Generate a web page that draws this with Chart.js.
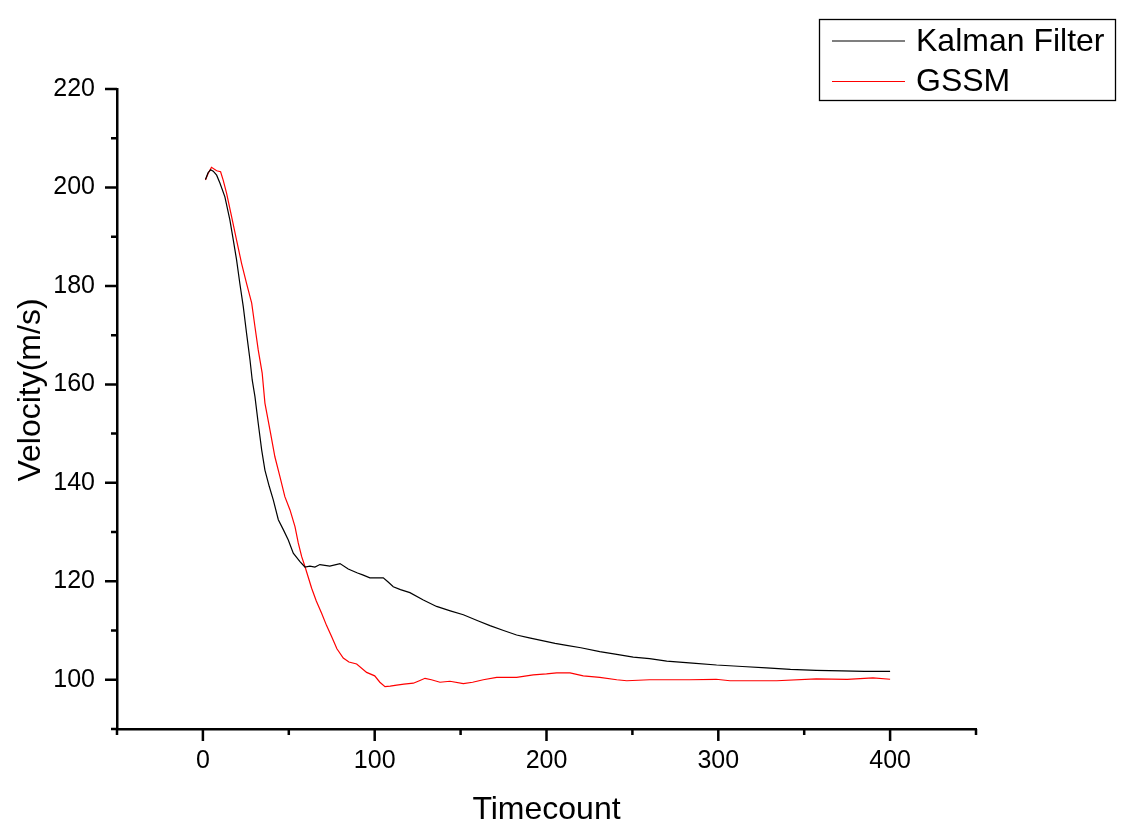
<!DOCTYPE html>
<html>
<head>
<meta charset="utf-8">
<script src="https://cdn.jsdelivr.net/npm/chart.js@4/dist/chart.umd.min.js"></script>
<style>
  body { margin: 0; background: #fff; }
</style>
</head>
<body>
<canvas id="chart" width="1129" height="837"></canvas>
<script>
// dados
const kalmanX = [1.5, 3, 4.5, 6, 8, 9.9, 12.8, 15.7, 17.7, 19.6, 21.5, 23.5, 25.4, 27.4, 28.7, 30.3, 32.2, 34.2, 36.1, 38.6, 41, 43.9, 46.8, 49.7, 52.6, 56.5, 59.4, 62.3, 65.2, 68.1, 73.9, 79.8, 84.6, 90, 93, 97.2, 101, 105, 108, 110.8, 115, 120.5, 128.3, 136, 144, 151.6, 160, 167.1, 175, 182.6, 190, 198.2, 205, 211.7, 220, 231, 240, 250.5, 260, 270, 285, 299, 314, 328, 342, 357, 372, 385, 400];
const kalmanY = [201.6, 203, 203.6, 203.3, 202.5, 200.9, 198.1, 193.4, 189.3, 185.3, 180.5, 175.8, 170.4, 165, 160.9, 157.5, 152.1, 146.7, 142.6, 139.3, 136.5, 132.5, 130.5, 128.4, 125.7, 124, 122.9, 123.1, 122.9, 123.4, 123.1, 123.6, 122.5, 121.7, 121.3, 120.7, 120.7, 120.7, 119.8, 118.9, 118.3, 117.7, 116.2, 114.9, 114, 113.2, 112, 111, 110, 109.1, 108.5, 107.9, 107.4, 107, 106.5, 105.7, 105.2, 104.6, 104.3, 103.8, 103.4, 103, 102.7, 102.4, 102.1, 101.9, 101.8, 101.7, 101.7];

const gssmX = [1.5, 3.1, 5, 8, 10.3, 11.8, 13.8, 16.7, 19.6, 22.5, 25.4, 28.4, 30.3, 32.2, 34.5, 36.1, 39, 41.9, 44.8, 47.7, 50.7, 53.6, 55.5, 57.5, 59.4, 63.3, 66, 69.1, 72, 74.9, 78, 81.7, 85, 89.5, 95.3, 100, 103, 106, 109, 112.8, 117, 122.5, 126, 129.3, 133, 138, 143.8, 151.6, 157, 163.2, 171, 182.6, 192.3, 200, 205.9, 213.7, 221.4, 231, 240.9, 246.7, 260, 283, 298.7, 306.8, 334, 357, 375, 390, 400];
const gssmY = [201.5, 202.9, 204.1, 203.4, 203.2, 201.5, 198.8, 194.1, 189.3, 184.6, 180.5, 176.5, 171.7, 167, 162.3, 156.2, 150.8, 145.3, 141.3, 137.2, 134.5, 131.1, 127.8, 125, 123, 118.6, 116, 113.5, 111, 108.8, 106.3, 104.4, 103.6, 103.2, 101.5, 100.8, 99.5, 98.6, 98.7, 98.9, 99.1, 99.3, 99.8, 100.3, 100, 99.5, 99.7, 99.2, 99.5, 100, 100.5, 100.5, 101, 101.2, 101.4, 101.4, 100.8, 100.5, 100, 99.8, 100, 100, 100.1, 99.8, 99.8, 100.2, 100.1, 100.4, 100.1];

const seriesNames = ['Kalman Filter', 'GSSM'];
const xLabels = [0, 100, 200, 300, 400];
const yLabels = [100, 120, 140, 160, 180, 200, 220];

const fonte = '"Liberation Sans", Arial, sans-serif';

function pontos(xs, ys) {
    return xs.map((x, i) => ({x: x, y: ys[i]}));
}

// ticks maiores e menores, por fora dos eixos + título do eixo y
const ticksPlugin = {
    id: 'ticksOrigin',
    afterDraw(chart) {
        let ctx = chart.ctx;
        let xs = chart.scales.x;
        let ys = chart.scales.y;
        ctx.save();
        ctx.strokeStyle = '#000';
        ctx.lineWidth = 2.5;
        ctx.beginPath();
        for (let v = -50; v <= 450; v += 50) {
            let px = xs.getPixelForValue(v);
            let len = (v % 100 === 0) ? 12 : 6;
            ctx.moveTo(px, xs.top);
            ctx.lineTo(px, xs.top + len);
        }
        for (let v = 90; v <= 220; v += 10) {
            let py = ys.getPixelForValue(v);
            let len = (v % 20 === 0) ? 12 : 6;
            ctx.moveTo(ys.right, py);
            ctx.lineTo(ys.right - len, py);
        }
        ctx.stroke();

        // título vertical, um pouco acima do centro como no original
        ctx.translate(31, 390);
        ctx.rotate(-Math.PI / 2);
        ctx.fillStyle = '#000';
        ctx.font = '32px ' + fonte;
        ctx.textAlign = 'center';
        ctx.textBaseline = 'middle';
        ctx.fillText('Velocity(m/s)', 0, 0);
        ctx.restore();
    }
};

// legenda com caixa no canto superior direito
const legendaPlugin = {
    id: 'legendaCaixa',
    afterDraw(chart) {
        let ctx = chart.ctx;
        ctx.save();
        ctx.strokeStyle = '#000';
        ctx.lineWidth = 1.3;
        ctx.strokeRect(819.5, 19.5, 296, 81);
        let linhas = [41, 81.5];
        chart.data.datasets.forEach((ds, i) => {
            ctx.strokeStyle = ds.borderColor;
            ctx.lineWidth = 1.2;
            ctx.beginPath();
            ctx.moveTo(832, linhas[i]);
            ctx.lineTo(905, linhas[i]);
            ctx.stroke();
            ctx.fillStyle = '#000';
            ctx.font = '32px ' + fonte;
            ctx.textBaseline = 'middle';
            ctx.textAlign = 'left';
            ctx.fillText(ds.label, 916, linhas[i] + 1);
        });
        ctx.restore();
    }
};

graficoVelocidade();
function graficoVelocidade() {
    let ctx = document.getElementById('chart').getContext('2d');
    new Chart(ctx, {
        type: 'scatter',
        data: {
            datasets: [
                {label: seriesNames[0], data: pontos(kalmanX, kalmanY), showLine: true, borderColor: '#000000', borderWidth: 1.2, pointRadius: 0, tension: 0},
                {label: seriesNames[1], data: pontos(gssmX, gssmY), showLine: true, borderColor: '#ff0000', borderWidth: 1.2, pointRadius: 0, tension: 0}
            ]
        },
        options: {
            responsive: false,
            animation: false,
            layout: {padding: {top: 89, right: 153, left: 0, bottom: 0}},
            plugins: {legend: {display: false}, tooltip: {enabled: false}},
            scales: {
                x: {
                    type: 'linear',
                    min: -50,
                    max: 450,
                    afterFit: s => { s.height = 108; },
                    grid: {display: true, drawOnChartArea: false, drawTicks: false},
                    border: {display: true, color: '#000', width: 2.5},
                    ticks: {
                        stepSize: 50,
                        padding: 17,
                        maxRotation: 0,
                        autoSkip: false,
                        color: '#000',
                        font: {family: fonte, size: 25},
                        callback: v => xLabels.includes(v) ? String(v) : ''
                    },
                    title: {display: true, text: 'Timecount', color: '#000', font: {family: fonte, size: 32}, padding: {top: 0, bottom: 8}}
                },
                y: {
                    type: 'linear',
                    min: 90,
                    max: 220,
                    afterFit: s => { s.width = 117; },
                    grid: {display: true, drawOnChartArea: false, drawTicks: false},
                    border: {display: true, color: '#000', width: 2.5},
                    ticks: {
                        stepSize: 10,
                        padding: 22,
                        autoSkip: false,
                        color: '#000',
                        font: {family: fonte, size: 25},
                        callback: v => yLabels.includes(v) ? String(v) : ''
                    },
                    title: {display: false}
                }
            }
        },
        plugins: [ticksPlugin, legendaPlugin]
    });
}
</script>
</body>
</html>
